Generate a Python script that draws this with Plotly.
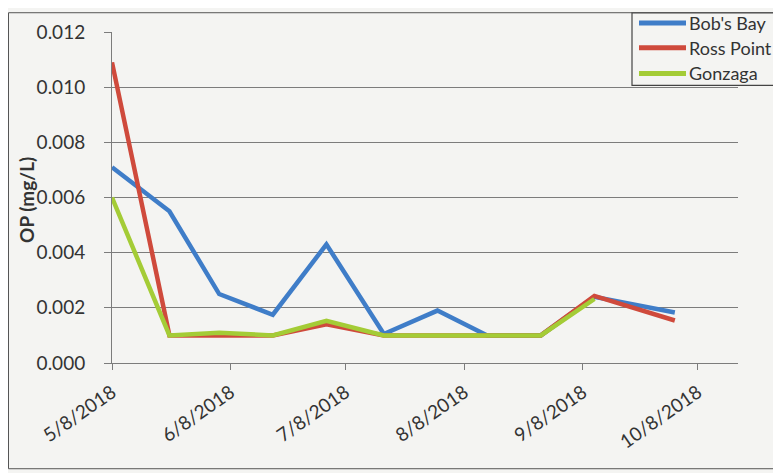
import plotly.graph_objects as go

dates = ["2018-05-08", "2018-05-23", "2018-06-05", "2018-06-19", "2018-07-03",
         "2018-07-18", "2018-08-01", "2018-08-14", "2018-08-28", "2018-09-11", "2018-10-02"]
bobs_bay = [0.0071, 0.0055, 0.0025, 0.00175, 0.0043, 0.00105, 0.0019, 0.001, 0.001, 0.0024, 0.00183]
ross_point = [0.0109, 0.001, 0.001, 0.001, 0.0014, 0.001, 0.001, 0.001, 0.001, 0.00243, 0.00154]
gonzaga = [0.006, 0.001, 0.0011, 0.001, 0.00153, 0.001, 0.001, 0.001, 0.001, 0.00232, None]

series_names = ["Bob's Bay", "Ross Point", "Gonzaga"]
series_colors = ["#3f7dc8", "#cf4a3c", "#a4cc36"]

x_tick_vals = ["2018-05-08", "2018-06-08", "2018-07-08", "2018-08-08", "2018-09-08", "2018-10-08"]
x_tick_text = ["5/8/2018", "6/8/2018", "7/8/2018", "8/8/2018", "9/8/2018", "10/8/2018"]
y_tick_vals = [0, 0.002, 0.004, 0.006, 0.008, 0.010, 0.012]
y_tick_text = ["0.000", "0.002", "0.004", "0.006", "0.008", "0.010", "0.012"]

OFF = 8  # page body margin
W, H = 781 - OFF, 473 - OFF
# plot area in screen pixels
SL, SR, ST, SB = 112, 738, 28, 363
L, R, T, B = SL - OFF, SR - OFF, ST - OFF, SB - OFF


def px(x):  # screen x -> paper
    return (x - SL) / (SR - SL)


def py(y):  # screen y -> paper
    return (SB - y) / (SB - ST)


FONT = "Lato, 'Open Sans', sans-serif"
TXT = "#333333"
GRID = "#7c7c7c"
BG = "#f4f4f2"

fig = go.Figure()
for name, vals, col in zip(series_names, [bobs_bay, ross_point, gonzaga], series_colors):
    fig.add_trace(go.Scatter(x=dates, y=vals, name=name, mode="lines",
                             line=dict(color=col, width=4.5), showlegend=False,
                             connectgaps=False))

shapes = []
annotations = []
# chart border (clamped to the figure edges)
shapes.append(dict(type="rect", xref="paper", yref="paper",
                   x0=px(OFF + 0.5), x1=px(800), y0=py(470), y1=py(OFF + 0.5),
                   line=dict(color="#555555", width=1), fillcolor="rgba(0,0,0,0)", layer="below"))
# legend box
shapes.append(dict(type="rect", xref="paper", yref="paper",
                   x0=px(632), x1=px(800), y0=py(82), y1=py(OFF + 0.6),
                   line=dict(color="#444444", width=1.2), fillcolor=BG, layer="above"))
row_y = [19, 44, 70]
for name, col, ry in zip(series_names, series_colors, row_y):
    shapes.append(dict(type="line", xref="paper", yref="paper",
                       x0=px(639), x1=px(686), y0=py(ry), y1=py(ry),
                       line=dict(color=col, width=5), layer="above"))
    annotations.append(dict(xref="paper", yref="paper", x=px(687), y=py(ry),
                            xanchor="left", yanchor="middle", showarrow=False,
                            text=name, font=dict(family=FONT, size=18, color=TXT)))

annotations.append(dict(xref="paper", yref="paper", x=px(27), y=py(198),
                        xanchor="center", yanchor="middle", showarrow=False,
                        textangle=-90, text="<b>OP (mg/L)</b>",
                        font=dict(family=FONT, size=19, color=TXT)))

fig.update_layout(
    width=W, height=H,
    margin=dict(l=L, r=W - R, t=T, b=H - B, pad=0),
    paper_bgcolor=BG, plot_bgcolor=BG,
    font=dict(family=FONT, size=19, color=TXT),
    shapes=shapes, annotations=annotations,
    xaxis=dict(type="date", range=["2018-05-08", "2018-10-18 12:00"],
               tickmode="array", tickvals=x_tick_vals, ticktext=x_tick_text,
               tickangle=-35, ticks="outside", ticklen=6, tickcolor=GRID,
               showgrid=False, showline=True, linecolor=GRID, linewidth=1,
               zeroline=False, ticklabelstandoff=4,
               tickfont=dict(family=FONT, size=19, color=TXT)),
    yaxis=dict(range=[0, 0.012], tickmode="array", tickvals=y_tick_vals, ticktext=y_tick_text,
               ticks="outside", ticklen=7, tickcolor=GRID,
               showgrid=True, gridcolor=GRID, gridwidth=1,
               showline=True, linecolor=GRID, linewidth=1, zeroline=False,
               ticklabelstandoff=15,
               tickfont=dict(family=FONT, size=19, color=TXT)),
)

fig.write_html("out.html")
